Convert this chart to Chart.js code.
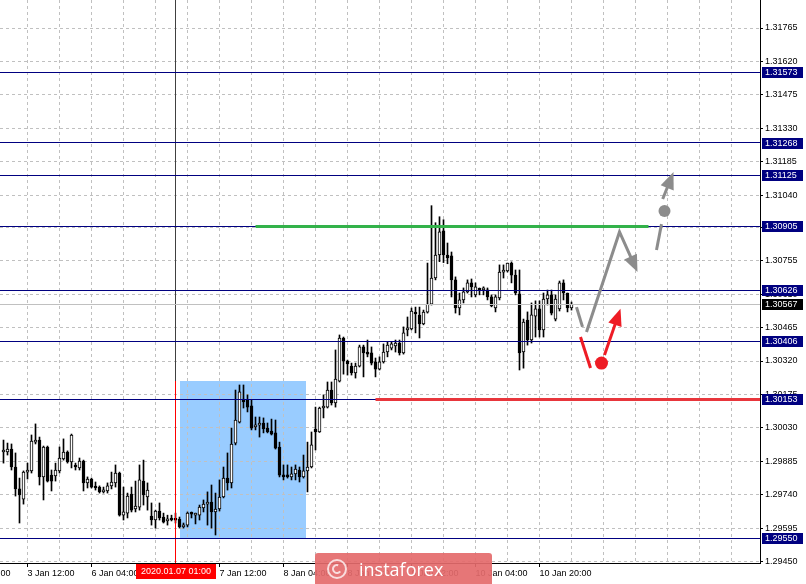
<!DOCTYPE html>
<html>
<head>
<meta charset="utf-8">
<script src="https://cdn.jsdelivr.net/npm/chart.js@4.4.1/dist/chart.umd.min.js"></script>
<style>
  html, body { margin: 0; padding: 0; background: #fff; }
</style>
</head>
<body>
<canvas id="chart" width="806" height="584"></canvas>
<script>
// GBP/USD H1, hour offsets counted from 3 Jan 12:00 (weekend skipped)
const firstHour = -6;

const opens = [1.29925, 1.29925, 1.29938, 1.29860, 1.29765, 1.29721, 1.29838, 1.29843, 1.29968, 1.29977,
  1.29817, 1.29947, 1.29825, 1.29821, 1.29843, 1.29895, 1.29925, 1.29882, 1.29865, 1.29856,
  1.29886, 1.29791, 1.29808, 1.29773, 1.29773, 1.29752, 1.29756, 1.29778, 1.29791, 1.29834,
  1.29651, 1.29660, 1.29743, 1.29678, 1.29686, 1.29799, 1.29730, 1.29647, 1.29630, 1.29669,
  1.29643, 1.29626, 1.29634, 1.29630, 1.29634, 1.29600, 1.29608, 1.29656, 1.29651, 1.29651,
  1.29682, 1.29699, 1.29708, 1.29665, 1.29678, 1.29730, 1.29812, 1.29791, 1.29964, 1.30055,
  1.30155, 1.30151, 1.30125, 1.30034, 1.30042, 1.30051, 1.30029, 1.30016, 1.30008, 1.29947,
  1.29825, 1.29821, 1.29817, 1.29830, 1.29847, 1.29817, 1.29843, 1.29860, 1.30025, 1.30012,
  1.30116, 1.30120, 1.30194, 1.30138, 1.30233, 1.30420, 1.30320, 1.30298, 1.30268, 1.30298,
  1.30381, 1.30359, 1.30355, 1.30316, 1.30285, 1.30316, 1.30359, 1.30376, 1.30385, 1.30398,
  1.30355, 1.30455, 1.30459, 1.30532, 1.30519, 1.30481, 1.30532, 1.30567, 1.30680, 1.30780,
  1.30885, 1.30780, 1.30776, 1.30672, 1.30550, 1.30585, 1.30620, 1.30659, 1.30607, 1.30629,
  1.30629, 1.30629, 1.30598, 1.30550, 1.30594, 1.30706, 1.30711, 1.30745, 1.30693, 1.30612,
  1.30359, 1.30498, 1.30411, 1.30515, 1.30546, 1.30455, 1.30589, 1.30607, 1.30502, 1.30546,
  1.30659, 1.30615, 1.30550];

const highs = [1.29977, 1.29964, 1.29960, 1.29921, 1.29812, 1.29843, 1.29877, 1.29999, 1.30047, 1.29990,
  1.29951, 1.29951, 1.29847, 1.29877, 1.29947, 1.29982, 1.29930, 1.30003, 1.29877, 1.29899,
  1.29890, 1.29817, 1.29812, 1.29795, 1.29778, 1.29773, 1.29791, 1.29838, 1.29869, 1.29838,
  1.29773, 1.29747, 1.29773, 1.29799, 1.29869, 1.29890, 1.29791, 1.29704, 1.29673, 1.29704,
  1.29660, 1.29651, 1.29651, 1.29660, 1.29643, 1.29617, 1.29665, 1.29665, 1.29660, 1.29695,
  1.29717, 1.29752, 1.29782, 1.29747, 1.29804, 1.29860, 1.29921, 1.30029, 1.30194, 1.30216,
  1.30216, 1.30173, 1.30151, 1.30077, 1.30077, 1.30073, 1.30051, 1.30068, 1.30064, 1.29968,
  1.29869, 1.29869, 1.29860, 1.29869, 1.29860, 1.29912, 1.29968, 1.30012, 1.30120, 1.30120,
  1.30173, 1.30229, 1.30229, 1.30368, 1.30433, 1.30424, 1.30324, 1.30311, 1.30311, 1.30389,
  1.30389, 1.30411, 1.30381, 1.30333, 1.30338, 1.30394, 1.30402, 1.30402, 1.30411, 1.30411,
  1.30468, 1.30511, 1.30550, 1.30554, 1.30554, 1.30541, 1.30745, 1.30994, 1.30920, 1.30946,
  1.30933, 1.30832, 1.30793, 1.30685, 1.30615, 1.30637, 1.30672, 1.30676, 1.30659, 1.30637,
  1.30642, 1.30637, 1.30607, 1.30607, 1.30737, 1.30737, 1.30745, 1.30750, 1.30715, 1.30715,
  1.30502, 1.30533, 1.30572, 1.30581, 1.30581, 1.30615, 1.30628, 1.30628, 1.30607, 1.30667,
  1.30672, 1.30615, 1.30576];

const lows = [1.29877, 1.29912, 1.29847, 1.29734, 1.29617, 1.29699, 1.29808, 1.29834, 1.29960, 1.29782,
  1.29717, 1.29795, 1.29756, 1.29799, 1.29834, 1.29890, 1.29877, 1.29856, 1.29847, 1.29847,
  1.29756, 1.29769, 1.29769, 1.29760, 1.29747, 1.29747, 1.29747, 1.29765, 1.29773, 1.29647,
  1.29630, 1.29639, 1.29665, 1.29665, 1.29673, 1.29695, 1.29673, 1.29608, 1.29595, 1.29630,
  1.29617, 1.29608, 1.29626, 1.29617, 1.29595, 1.29595, 1.29600, 1.29639, 1.29613, 1.29630,
  1.29665, 1.29608, 1.29595, 1.29565, 1.29669, 1.29726, 1.29760, 1.29769, 1.29956, 1.30051,
  1.30116, 1.30099, 1.30021, 1.30021, 1.29990, 1.30008, 1.30008, 1.29999, 1.29938, 1.29817,
  1.29804, 1.29812, 1.29804, 1.29804, 1.29795, 1.29812, 1.29752, 1.29856, 1.29934, 1.30010,
  1.30073, 1.30116, 1.30129, 1.30120, 1.30229, 1.30263, 1.30259, 1.30259, 1.30246, 1.30294,
  1.30251, 1.30338, 1.30303, 1.30251, 1.30281, 1.30311, 1.30338, 1.30368, 1.30359, 1.30346,
  1.30350, 1.30429, 1.30455, 1.30442, 1.30420, 1.30477, 1.30528, 1.30563, 1.30672, 1.30751,
  1.30747, 1.30742, 1.30598, 1.30528, 1.30520, 1.30572, 1.30615, 1.30598, 1.30598, 1.30607,
  1.30607, 1.30585, 1.30555, 1.30533, 1.30585, 1.30680, 1.30706, 1.30659, 1.30607, 1.30281,
  1.30289, 1.30389, 1.30398, 1.30424, 1.30424, 1.30424, 1.30563, 1.30520, 1.30494, 1.30537,
  1.30585, 1.30533, 1.30541];

const closes = [1.29934, 1.29938, 1.29860, 1.29765, 1.29739, 1.29838, 1.29847, 1.29973, 1.29977, 1.29817,
  1.29947, 1.29799, 1.29799, 1.29847, 1.29899, 1.29925, 1.29882, 1.29999, 1.29860, 1.29886,
  1.29791, 1.29808, 1.29773, 1.29769, 1.29752, 1.29760, 1.29778, 1.29795, 1.29834, 1.29651,
  1.29665, 1.29734, 1.29673, 1.29691, 1.29804, 1.29739, 1.29760, 1.29630, 1.29669, 1.29639,
  1.29621, 1.29634, 1.29630, 1.29629, 1.29600, 1.29608, 1.29660, 1.29655, 1.29656, 1.29686,
  1.29699, 1.29708, 1.29665, 1.29678, 1.29730, 1.29812, 1.29791, 1.29960, 1.30064, 1.30186,
  1.30142, 1.30120, 1.30029, 1.30042, 1.30051, 1.30025, 1.30012, 1.30003, 1.29942, 1.29825,
  1.29817, 1.29817, 1.29830, 1.29851, 1.29817, 1.29843, 1.29860, 1.29956, 1.30012, 1.30116,
  1.30120, 1.30194, 1.30138, 1.30242, 1.30420, 1.30320, 1.30307, 1.30268, 1.30298, 1.30381,
  1.30355, 1.30350, 1.30311, 1.30285, 1.30316, 1.30359, 1.30389, 1.30394, 1.30398, 1.30355,
  1.30442, 1.30459, 1.30537, 1.30524, 1.30481, 1.30532, 1.30567, 1.30680, 1.30780, 1.30880,
  1.30780, 1.30767, 1.30672, 1.30550, 1.30585, 1.30620, 1.30659, 1.30642, 1.30642, 1.30627,
  1.30631, 1.30598, 1.30559, 1.30598, 1.30706, 1.30715, 1.30745, 1.30693, 1.30615, 1.30355,
  1.30489, 1.30411, 1.30520, 1.30546, 1.30455, 1.30589, 1.30607, 1.30528, 1.30589, 1.30659,
  1.30615, 1.30550, 1.30567];

// axis labels
const priceTicks = [1.29450, 1.29595, 1.29740, 1.29885, 1.30030, 1.30175, 1.30320, 1.30465, 1.30610,
  1.30755, 1.30900, 1.31040, 1.31185, 1.31330, 1.31475, 1.31620, 1.31765];
const timeTickHours = [-16, 0, 16, 32, 48, 64, 80, 96, 112, 128];
const timeTickLabels = ['2 Jan 20:00', '3 Jan 12:00', '6 Jan 04:00', '6 Jan 20:00', '7 Jan 12:00',
  '8 Jan 04:00', '8 Jan 20:00', '9 Jan 12:00', '10 Jan 04:00', '10 Jan 20:00'];

// horizontal levels
const levels = [1.31573, 1.31268, 1.31125, 1.30905, 1.30626, 1.30406, 1.30153, 1.29550];
const bidPrice = 1.30567;
const resistance = { price: 1.30905, from: 57, to: 155.25 };
const support = { price: 1.30153, from: 87 };

// marked zone and vertical line
const zone = { from: 38.1, to: 69.6, top: 1.30233, bottom: 1.29550 };
const markHour = 37;
const markLabel = '2020.01.07 01:00';

// forecast drawings (hour, price)
const grayPathA = [[137.25, 1.30554], [138.75, 1.30468]];
const grayPathB = [[139.75, 1.30446], [148, 1.30880], [152.5, 1.30706]];
const grayPathC = [[157.25, 1.30802], [158.5, 1.30914]];
const grayDot = [159.25, 1.30971];
const grayPathD = [[158.8, 1.31023], [161.5, 1.31140]];
const redPathA = [[138.25, 1.30424], [140.75, 1.30290]];
const redDot = [143.5, 1.30311];
const redPathB = [[144.25, 1.30346], [148.25, 1.30547]];

const gridHours = [];
for (let h = 0; h <= 176; h += 8) gridHours.push(h);

const hours = opens.map((v, i) => firstHour + i);
const bodies = hours.map((h, i) => ({ x: h, y: [opens[i], closes[i]] }));
const wicks = hours.map((h, i) => ({ x: h, y: [lows[i], highs[i]] }));
const bodyColors = opens.map((o, i) => closes[i] >= o ? '#ffffff' : '#000000');

const FONT = '9px "Liberation Sans", Arial, sans-serif';

function pathPx(chart, pts) {
  return pts.map(p => [chart.scales.x.getPixelForValue(p[0]), chart.scales.y.getPixelForValue(p[1])]);
}

function strokePath(ctx, pts, color, arrow) {
  let pp = pts.slice();
  let head = null;
  if (arrow) {
    const [x1, y1] = pp[pp.length - 2];
    const [x2, y2] = pp[pp.length - 1];
    const a = Math.atan2(y2 - y1, x2 - x1);
    const len = 17, half = 7;
    const bx = x2 - Math.cos(a) * len, by = y2 - Math.sin(a) * len;
    pp[pp.length - 1] = [bx + Math.cos(a) * 2, by + Math.sin(a) * 2];
    head = [[x2, y2],
      [bx + Math.sin(a) * half, by - Math.cos(a) * half],
      [bx - Math.sin(a) * half, by + Math.cos(a) * half]];
  }
  ctx.strokeStyle = color;
  ctx.lineWidth = 3;
  ctx.lineJoin = 'miter';
  ctx.beginPath();
  pp.forEach((p, i) => i ? ctx.lineTo(p[0], p[1]) : ctx.moveTo(p[0], p[1]));
  ctx.stroke();
  if (head) {
    ctx.fillStyle = color;
    ctx.beginPath();
    ctx.moveTo(head[0][0], head[0][1]);
    ctx.lineTo(head[1][0], head[1][1]);
    ctx.lineTo(head[2][0], head[2][1]);
    ctx.closePath();
    ctx.fill();
  }
}

function dot(ctx, chart, p, r, color) {
  const [x, y] = pathPx(chart, [p])[0];
  ctx.fillStyle = color;
  ctx.beginPath();
  ctx.arc(x, y, r, 0, Math.PI * 2);
  ctx.fill();
}

function priceBox(ctx, y, text, bg) {
  const py = Math.round(y);
  ctx.fillStyle = bg;
  ctx.fillRect(762, py - 5, 41, 11);
  ctx.fillStyle = '#fff';
  ctx.font = FONT;
  ctx.textAlign = 'left';
  ctx.textBaseline = 'middle';
  ctx.fillText(text, 765, py + 0.5);
}

const drawings = {
  id: 'drawings',
  beforeDraw(chart) {
    const { ctx, scales: { x, y } } = chart;
    ctx.save();
    ctx.fillStyle = '#fff';
    ctx.fillRect(0, 0, chart.width, chart.height);
    const x1 = Math.round(x.getPixelForValue(zone.from));
    const x2 = Math.round(x.getPixelForValue(zone.to));
    const y1 = Math.round(y.getPixelForValue(zone.top));
    const y2 = Math.round(y.getPixelForValue(zone.bottom));
    ctx.fillStyle = '#99ccff';
    ctx.fillRect(x1, y1, x2 - x1, y2 - y1);
    ctx.restore();
  },
  afterDatasetsDraw(chart) {
    const { ctx, chartArea, scales: { x, y } } = chart;
    ctx.save();
    // vertical marker
    const mx = Math.round(x.getPixelForValue(markHour)) - 0.5;
    const zy = Math.round(y.getPixelForValue(zone.top));
    ctx.lineWidth = 1;
    ctx.strokeStyle = '#404040';
    ctx.beginPath(); ctx.moveTo(mx, chartArea.top); ctx.lineTo(mx, zy); ctx.stroke();
    ctx.strokeStyle = '#ff0000';
    ctx.beginPath(); ctx.moveTo(mx, zy); ctx.lineTo(mx, chartArea.bottom); ctx.stroke();

    // bid line
    let by = Math.floor(y.getPixelForValue(bidPrice)) + 0.5;
    ctx.strokeStyle = '#c0c0c0';
    ctx.beginPath(); ctx.moveTo(chartArea.left, by); ctx.lineTo(chartArea.right, by); ctx.stroke();

    // levels
    ctx.strokeStyle = '#000080';
    levels.forEach(v => {
      const ly = Math.floor(y.getPixelForValue(v)) + 0.5;
      ctx.beginPath(); ctx.moveTo(chartArea.left, ly); ctx.lineTo(chartArea.right, ly); ctx.stroke();
    });

    // resistance (green) and support (red)
    ctx.lineWidth = 3;
    ctx.strokeStyle = '#33b24a';
    let ry = Math.floor(y.getPixelForValue(resistance.price)) + 0.5;
    ctx.beginPath();
    ctx.moveTo(x.getPixelForValue(resistance.from), ry);
    ctx.lineTo(x.getPixelForValue(resistance.to), ry);
    ctx.stroke();
    ctx.strokeStyle = '#e8363c';
    let sy = Math.floor(y.getPixelForValue(support.price)) + 0.5;
    ctx.beginPath();
    ctx.moveTo(x.getPixelForValue(support.from), sy);
    ctx.lineTo(chartArea.right, sy);
    ctx.stroke();

    // forecast arrows
    ctx.lineCap = 'butt';
    strokePath(ctx, pathPx(chart, grayPathA), '#8c8c8c', false);
    strokePath(ctx, pathPx(chart, grayPathB), '#8c8c8c', true);
    strokePath(ctx, pathPx(chart, grayPathC), '#8c8c8c', false);
    dot(ctx, chart, grayDot, 6, '#8c8c8c');
    strokePath(ctx, pathPx(chart, grayPathD), '#8c8c8c', true);
    strokePath(ctx, pathPx(chart, redPathA), '#ee1c25', false);
    dot(ctx, chart, redDot, 6.5, '#ee1c25');
    strokePath(ctx, pathPx(chart, redPathB), '#ee1c25', true);
    ctx.restore();
  },
  afterDraw(chart) {
    const { ctx, chartArea, scales: { x, y } } = chart;
    ctx.save();
    // price labels for the levels
    levels.forEach(v => priceBox(ctx, y.getPixelForValue(v), v.toFixed(5), '#000080'));
    priceBox(ctx, y.getPixelForValue(bidPrice), bidPrice.toFixed(5), '#000000');

    // time labels
    ctx.font = FONT;
    ctx.textAlign = 'left';
    ctx.textBaseline = 'middle';
    ctx.strokeStyle = '#000';
    ctx.lineWidth = 1;
    timeTickHours.forEach((h, i) => {
      const tx = Math.round(x.getPixelForValue(h)) - 0.5;
      ctx.beginPath(); ctx.moveTo(tx, chartArea.bottom); ctx.lineTo(tx, chartArea.bottom + 4); ctx.stroke();
      ctx.fillStyle = '#000';
      ctx.fillText(timeTickLabels[i], tx, chartArea.bottom + 10.5);
    });

    // marker time label
    const mx = Math.round(x.getPixelForValue(markHour));
    ctx.fillStyle = '#ff0000';
    ctx.fillRect(mx - 40, chartArea.bottom + 1, 80, 15);
    ctx.fillStyle = '#fff';
    ctx.textAlign = 'center';
    ctx.fillText(markLabel, mx, chartArea.bottom + 9);

    // watermark
    ctx.globalAlpha = 0.92;
    ctx.fillStyle = '#e46a6b';
    ctx.beginPath();
    const wx = 315, wy = 553, ww = 177, wh = 34, r = 3;
    ctx.moveTo(wx + r, wy);
    ctx.lineTo(wx + ww - r, wy); ctx.quadraticCurveTo(wx + ww, wy, wx + ww, wy + r);
    ctx.lineTo(wx + ww, wy + wh); ctx.lineTo(wx, wy + wh);
    ctx.lineTo(wx, wy + r); ctx.quadraticCurveTo(wx, wy, wx + r, wy);
    ctx.fill();
    ctx.globalAlpha = 1;
    ctx.strokeStyle = 'rgba(255,255,255,0.75)';
    ctx.lineWidth = 2;
    ctx.beginPath(); ctx.arc(337, 569, 9, 0, Math.PI * 2); ctx.stroke();
    ctx.beginPath(); ctx.arc(337, 569, 4, Math.PI * 0.2, Math.PI * 1.6); ctx.stroke();
    ctx.fillStyle = '#ffffff';
    ctx.font = '18px "Open Sans", sans-serif';
    ctx.textAlign = 'left';
    ctx.textBaseline = 'alphabetic';
    ctx.fillText('instaforex', 359, 576);
    ctx.restore();
  }
};

Chart.defaults.font.family = '"Liberation Sans", Arial, sans-serif';

new Chart(document.getElementById('chart'), {
  type: 'bar',
  data: {
    datasets: [
      {
        label: 'bodies',
        data: bodies,
        backgroundColor: bodyColors,
        borderColor: '#000',
        borderWidth: 1,
        borderSkipped: false,
        barThickness: 3,
        minBarLength: 2,
        grouped: false,
        order: 1
      },
      {
        label: 'wicks',
        data: wicks,
        backgroundColor: '#000',
        borderWidth: 0,
        barThickness: 1,
        grouped: false,
        order: 2
      }
    ]
  },
  options: {
    responsive: false,
    devicePixelRatio: 1,
    animation: false,
    events: [],
    layout: { padding: 0 },
    plugins: { legend: { display: false }, tooltip: { enabled: false } },
    scales: {
      x: {
        type: 'linear',
        position: 'bottom',
        min: -6.875,
        max: 183.125,
        offset: false,
        afterBuildTicks: s => { s.ticks = gridHours.map(v => ({ value: v })); },
        afterFit: s => { s.height = 21; s.paddingLeft = 0; s.paddingRight = 0; },
        ticks: { display: false },
        grid: { color: '#c0c0c0', drawTicks: false, offset: false },
        border: { color: '#000', width: 1, dash: [3, 3] }
      },
      y: {
        type: 'linear',
        position: 'right',
        min: 1.294435,
        max: 1.318865,
        afterBuildTicks: s => { s.ticks = priceTicks.map(v => ({ value: v })); },
        afterFit: s => { s.width = 46; s.paddingTop = 0; s.paddingBottom = 0; },
        ticks: {
          callback: v => Number(v).toFixed(5),
          font: { size: 9 },
          color: '#000',
          padding: 2,
          autoSkip: false
        },
        grid: { color: '#c0c0c0', tickColor: '#000', tickLength: 3 },
        border: { color: '#000', width: 1, dash: [3, 3] }
      }
    }
  },
  plugins: [drawings]
});
</script>
</body>
</html>
